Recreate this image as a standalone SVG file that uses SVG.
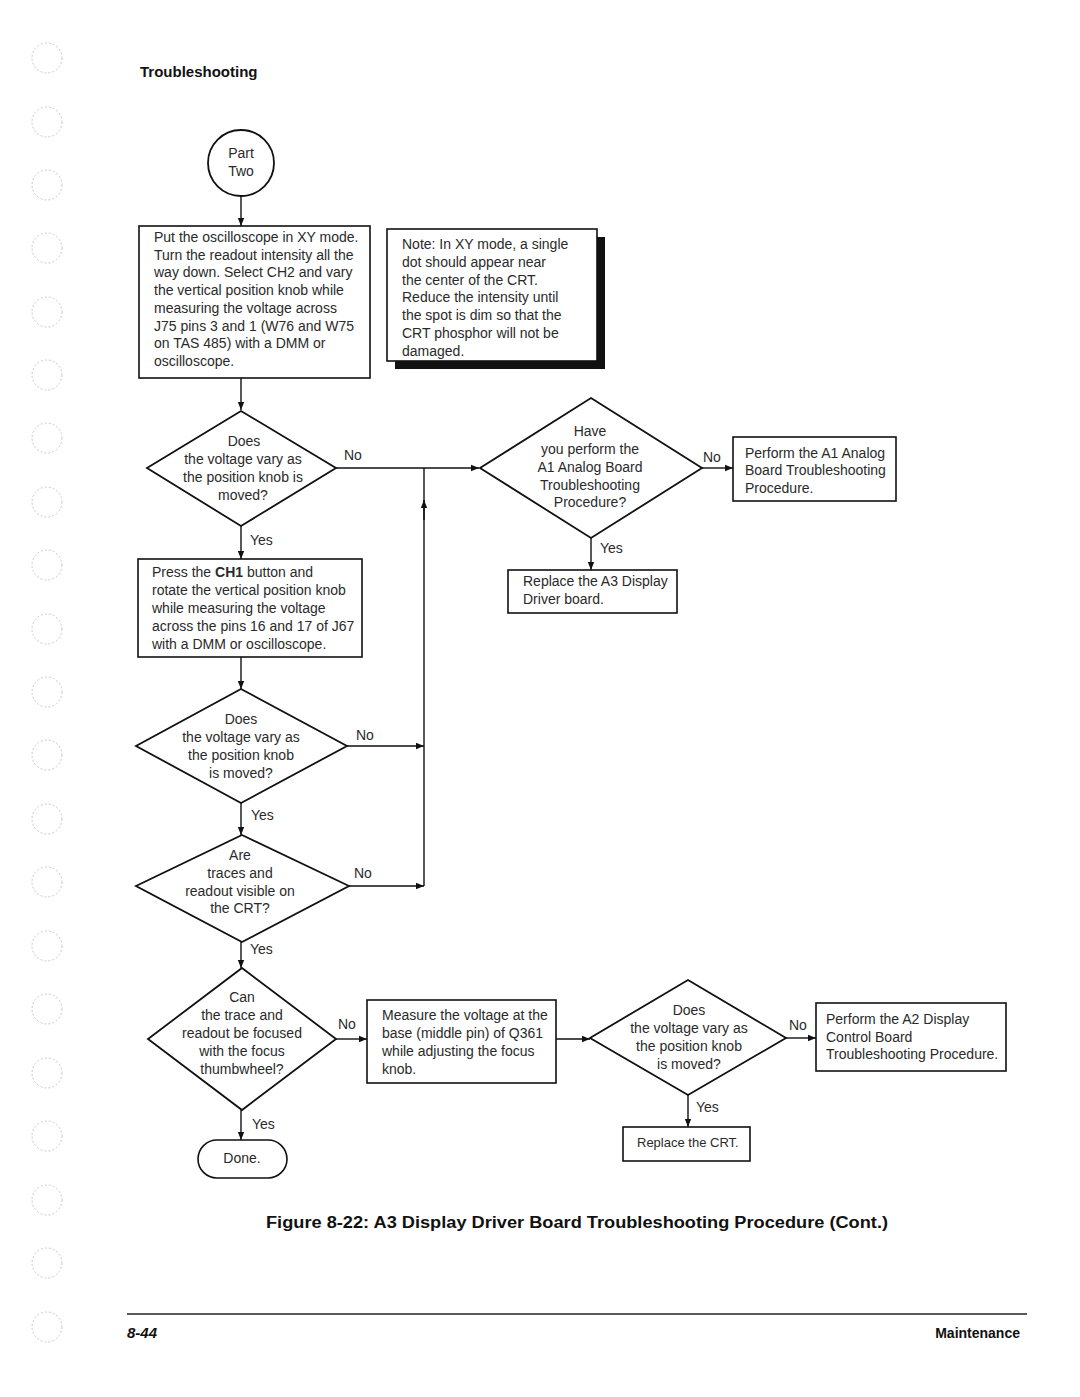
<svg xmlns="http://www.w3.org/2000/svg" width="1080" height="1397" viewBox="0 0 1080 1397">
<defs>
<marker id="ah" viewBox="0 0 10 10" refX="10" refY="5" markerWidth="8" markerHeight="8" markerUnits="userSpaceOnUse" orient="auto">
<path d="M0,1 L10,5 L0,9 Z" fill="#111"/>
</marker>
<style>
.t{font-family:"Liberation Sans",Arial,sans-serif;font-size:14px;fill:#2a2a2a}
.c{text-anchor:middle}
.b{fill:#fff;stroke:#111;stroke-width:1.6}
.d{fill:#fff;stroke:#111;stroke-width:1.8}
.w{fill:none;stroke:#111;stroke-width:1.4}
.hole{fill:none;stroke:#c8c8c8;stroke-width:1;stroke-dasharray:2 2}
</style>
</defs>
<rect width="1080" height="1397" fill="#fff"/>
<g id="holes">
<circle class="hole" cx="47" cy="58" r="15"/><circle class="hole" cx="47" cy="122" r="15"/><circle class="hole" cx="47" cy="185" r="15"/><circle class="hole" cx="47" cy="248" r="15"/><circle class="hole" cx="47" cy="312" r="15"/><circle class="hole" cx="47" cy="375" r="15"/><circle class="hole" cx="47" cy="438" r="15"/><circle class="hole" cx="47" cy="502" r="15"/><circle class="hole" cx="47" cy="565" r="15"/><circle class="hole" cx="47" cy="629" r="15"/><circle class="hole" cx="47" cy="692" r="15"/><circle class="hole" cx="47" cy="755" r="15"/><circle class="hole" cx="47" cy="819" r="15"/><circle class="hole" cx="47" cy="882" r="15"/><circle class="hole" cx="47" cy="946" r="15"/><circle class="hole" cx="47" cy="1009" r="15"/><circle class="hole" cx="47" cy="1073" r="15"/><circle class="hole" cx="47" cy="1136" r="15"/><circle class="hole" cx="47" cy="1200" r="15"/><circle class="hole" cx="47" cy="1263" r="15"/><circle class="hole" cx="47" cy="1327" r="15"/>
</g>
<text x="140" y="77" style="font-family:'Liberation Sans',Arial,sans-serif;font-size:15px;font-weight:bold;fill:#111">Troubleshooting</text>

<g id="connectors">
<line class="w" x1="241" y1="196" x2="241" y2="226" marker-end="url(#ah)"/>
<line class="w" x1="241" y1="378" x2="241" y2="410" marker-end="url(#ah)"/>
<line class="w" x1="336" y1="468" x2="479" y2="468" marker-end="url(#ah)"/>
<line class="w" x1="424" y1="886" x2="424" y2="468"/>
<line class="w" x1="424" y1="520" x2="424" y2="500" marker-end="url(#ah)"/>
<line class="w" x1="241" y1="526" x2="241" y2="559" marker-end="url(#ah)"/>
<line class="w" x1="241" y1="657" x2="241" y2="689" marker-end="url(#ah)"/>
<line class="w" x1="347" y1="746" x2="424" y2="746" marker-end="url(#ah)"/>
<line class="w" x1="241" y1="803" x2="241" y2="835" marker-end="url(#ah)"/>
<line class="w" x1="349" y1="886" x2="424" y2="886" marker-end="url(#ah)"/>
<line class="w" x1="241" y1="942" x2="241" y2="968" marker-end="url(#ah)"/>
<line class="w" x1="336" y1="1039" x2="367" y2="1039" marker-end="url(#ah)"/>
<line class="w" x1="556" y1="1039" x2="590" y2="1039" marker-end="url(#ah)"/>
<line class="w" x1="786" y1="1038" x2="816" y2="1038" marker-end="url(#ah)"/>
<line class="w" x1="688" y1="1095" x2="688" y2="1127" marker-end="url(#ah)"/>
<line class="w" x1="241" y1="1110" x2="241" y2="1140" marker-end="url(#ah)"/>
<line class="w" x1="702" y1="468" x2="733" y2="468" marker-end="url(#ah)"/>
<line class="w" x1="591" y1="538" x2="591" y2="570" marker-end="url(#ah)"/>
<text class="t" x="344" y="460">No</text>
<text class="t" x="250" y="545">Yes</text>
<text class="t" x="356" y="740">No</text>
<text class="t" x="251" y="820">Yes</text>
<text class="t" x="354" y="878">No</text>
<text class="t" x="250" y="954">Yes</text>
<text class="t" x="338" y="1029">No</text>
<text class="t" x="252" y="1129">Yes</text>
<text class="t" x="789" y="1030">No</text>
<text class="t" x="696" y="1112">Yes</text>
<text class="t" x="703" y="462">No</text>
<text class="t" x="600" y="553">Yes</text>
</g>

<g id="start">
<circle cx="241" cy="163" r="33" class="d"/>
<text class="t c" x="241" y="158">Part</text>
<text class="t c" x="241" y="176">Two</text>
</g>

<g id="box1">
<rect class="b" x="139" y="226" width="231" height="152"/>
<text class="t" x="154" y="242">Put the oscilloscope in XY mode.</text>
<text class="t" x="154" y="260">Turn the readout intensity all the</text>
<text class="t" x="154" y="277">way down.  Select CH2 and vary</text>
<text class="t" x="154" y="295">the vertical position knob while</text>
<text class="t" x="154" y="313">measuring the voltage across</text>
<text class="t" x="154" y="331">J75 pins 3 and 1 (W76 and W75</text>
<text class="t" x="154" y="348">on TAS 485) with a DMM or</text>
<text class="t" x="154" y="366">oscilloscope.</text>
</g>

<g id="note">
<rect x="395" y="237" width="210" height="132" fill="#111"/>
<rect class="b" x="387" y="229" width="210" height="132"/>
<text class="t" x="402" y="249">Note: In XY mode, a single</text>
<text class="t" x="402" y="267">dot should appear near</text>
<text class="t" x="402" y="285">the center of the CRT.</text>
<text class="t" x="402" y="302">Reduce the intensity until</text>
<text class="t" x="402" y="320">the spot is dim so that the</text>
<text class="t" x="402" y="338">CRT phosphor will not be</text>
<text class="t" x="402" y="356">damaged.</text>
</g>

<g id="dec1">
<polygon class="d" points="241,411 336,468 241,526 147,468"/>
<text class="t c" x="244" y="446">Does</text>
<text class="t c" x="243" y="464">the voltage vary as</text>
<text class="t c" x="243" y="482">the position knob is</text>
<text class="t c" x="243" y="500">moved?</text>
</g>

<g id="box2">
<rect class="b" x="138" y="559" width="224" height="98"/>
<text class="t" x="152" y="577">Press the <tspan font-weight="bold">CH1</tspan>  button and</text>
<text class="t" x="152" y="595">rotate  the vertical position knob</text>
<text class="t" x="152" y="613">while measuring the voltage</text>
<text class="t" x="152" y="631">across the pins 16 and 17 of J67</text>
<text class="t" x="152" y="649">with a DMM or oscilloscope.</text>
</g>

<g id="dec2">
<polygon class="d" points="241,689 347,746 241,803 136,746"/>
<text class="t c" x="241" y="724">Does</text>
<text class="t c" x="241" y="742">the voltage vary as</text>
<text class="t c" x="241" y="760">the position knob</text>
<text class="t c" x="241" y="778">is moved?</text>
</g>

<g id="dec3">
<polygon class="d" points="242,835 349,886 242,942 136,886"/>
<text class="t c" x="240" y="860">Are</text>
<text class="t c" x="240" y="878">traces and</text>
<text class="t c" x="240" y="896">readout visible on</text>
<text class="t c" x="240" y="913">the CRT?</text>
</g>

<g id="dec4">
<polygon class="d" points="242,968 336,1039 242,1110 148,1039"/>
<text class="t c" x="242" y="1002">Can</text>
<text class="t c" x="242" y="1020">the trace and</text>
<text class="t c" x="242" y="1038">readout be focused</text>
<text class="t c" x="242" y="1056">with the focus</text>
<text class="t c" x="242" y="1074">thumbwheel?</text>
</g>

<g id="done">
<rect class="b" x="198" y="1140" width="89" height="38" rx="19" ry="19"/>
<text class="t c" x="242" y="1163">Done.</text>
</g>

<g id="measure">
<rect class="b" x="367" y="1000" width="189" height="83"/>
<text class="t" x="382" y="1020">Measure the voltage at the</text>
<text class="t" x="382" y="1038">base (middle pin) of Q361</text>
<text class="t" x="382" y="1056">while adjusting the focus</text>
<text class="t" x="382" y="1074">knob.</text>
</g>

<g id="dec5">
<polygon class="d" points="688,980 786,1038 688,1095 590,1038"/>
<text class="t c" x="689" y="1015">Does</text>
<text class="t c" x="689" y="1033">the voltage vary as</text>
<text class="t c" x="689" y="1051">the position knob</text>
<text class="t c" x="689" y="1069">is moved?</text>
</g>

<g id="a2box">
<rect class="b" x="816" y="1003" width="190" height="68"/>
<text class="t" x="826" y="1024">Perform the A2 Display</text>
<text class="t" x="826" y="1042">Control Board</text>
<text class="t" x="826" y="1059">Troubleshooting Procedure.</text>
</g>

<g id="crt">
<rect class="b" x="623" y="1127" width="127" height="34"/>
<text class="t" x="637" y="1147" style="font-size:13px">Replace the CRT.</text>
</g>

<g id="dec6">
<polygon class="d" points="591,398 702,468 591,538 480,468"/>
<text class="t c" x="590" y="436">Have</text>
<text class="t c" x="590" y="454">you perform the</text>
<text class="t c" x="590" y="472">A1 Analog Board</text>
<text class="t c" x="590" y="490">Troubleshooting</text>
<text class="t c" x="590" y="507">Procedure?</text>
</g>

<g id="a1box">
<rect class="b" x="733" y="437" width="163" height="64"/>
<text class="t" x="745" y="458">Perform the A1 Analog</text>
<text class="t" x="745" y="475">Board Troubleshooting</text>
<text class="t" x="745" y="493">Procedure.</text>
</g>

<g id="a3box">
<rect class="b" x="508" y="570" width="169" height="43"/>
<text class="t" x="523" y="586">Replace the A3 Display</text>
<text class="t" x="523" y="604">Driver board.</text>
</g>

<text x="577" y="1228" text-anchor="middle" textLength="622" lengthAdjust="spacingAndGlyphs" style="font-family:'Liberation Sans',Arial,sans-serif;font-size:16px;font-weight:bold;fill:#111">Figure 8-22:  A3 Display Driver Board Troubleshooting Procedure (Cont.)</text>
<line x1="127" y1="1314" x2="1027" y2="1314" stroke="#222" stroke-width="1.5"/>
<text x="127" y="1338" style="font-family:'Liberation Sans',Arial,sans-serif;font-size:15px;font-weight:bold;font-style:italic;fill:#111">8-44</text>
<text x="1020" y="1338" text-anchor="end" style="font-family:'Liberation Sans',Arial,sans-serif;font-size:14px;font-weight:bold;fill:#111">Maintenance</text>
</svg>
